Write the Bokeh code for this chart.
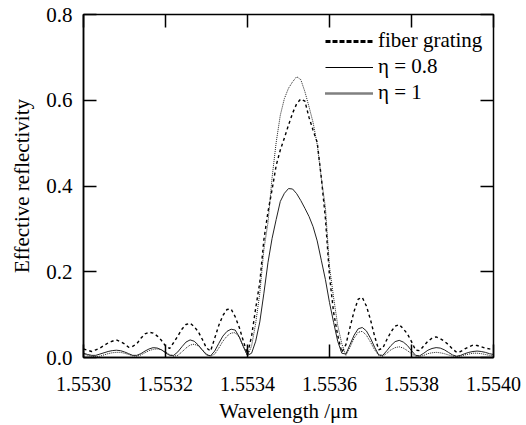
import numpy as np
from bokeh.plotting import figure
from bokeh.models import (Range1d, FixedTicker, PrintfTickFormatter, LinearAxis,
                          Legend, LegendItem, CustomJSTickFormatter)
from bokeh.embed import file_html
from bokeh.resources import INLINE

# ---- data ----
wavelength = np.round(np.linspace(1.5530, 1.5540, 101), 6)

fiber_grating = [0.020, 0.017, 0.014, 0.018, 0.022, 0.028, 0.034, 0.038, 0.041, 0.037,
                 0.032, 0.024, 0.026, 0.032, 0.045, 0.055, 0.059, 0.057, 0.050, 0.040,
                 0.027, 0.021, 0.035, 0.050, 0.066, 0.077, 0.080, 0.072, 0.060, 0.042,
                 0.022, 0.015, 0.045, 0.075, 0.098, 0.112, 0.113, 0.095, 0.070, 0.038,
                 0.008, 0.050, 0.115, 0.175, 0.275, 0.340, 0.392, 0.448, 0.484, 0.512,
                 0.542, 0.570, 0.592, 0.603, 0.598, 0.560, 0.530, 0.502, 0.420, 0.325,
                 0.190, 0.105, 0.052, 0.012, 0.030, 0.070, 0.108, 0.136, 0.140, 0.120,
                 0.088, 0.050, 0.018, 0.022, 0.042, 0.060, 0.073, 0.077, 0.067, 0.055,
                 0.037, 0.017, 0.016, 0.027, 0.038, 0.045, 0.048, 0.044, 0.038, 0.030,
                 0.020, 0.012, 0.014, 0.020, 0.025, 0.029, 0.028, 0.025, 0.022, 0.020,
                 0.018]

eta_08 = [0.010, 0.007, 0.005, 0.005, 0.008, 0.011, 0.014, 0.016, 0.017, 0.016,
          0.013, 0.009, 0.005, 0.005, 0.009, 0.015, 0.020, 0.023, 0.022, 0.018,
          0.011, 0.005, 0.005, 0.013, 0.025, 0.036, 0.041, 0.038, 0.029, 0.017,
          0.006, 0.004, 0.015, 0.033, 0.050, 0.061, 0.066, 0.064, 0.048, 0.025,
          0.005, 0.010, 0.038, 0.083, 0.150, 0.222, 0.278, 0.322, 0.364, 0.383,
          0.394, 0.393, 0.382, 0.366, 0.348, 0.329, 0.305, 0.272, 0.227, 0.182,
          0.128, 0.082, 0.038, 0.010, 0.008, 0.030, 0.052, 0.067, 0.070, 0.062,
          0.045, 0.024, 0.006, 0.005, 0.016, 0.028, 0.037, 0.040, 0.036, 0.028,
          0.016, 0.005, 0.004, 0.010, 0.017, 0.021, 0.023, 0.022, 0.018, 0.012,
          0.006, 0.003, 0.005, 0.009, 0.012, 0.014, 0.015, 0.014, 0.012, 0.009,
          0.007]

eta_1 = [0.008, 0.005, 0.003, 0.002, 0.003, 0.006, 0.009, 0.011, 0.012, 0.012,
         0.010, 0.007, 0.004, 0.003, 0.006, 0.011, 0.016, 0.019, 0.020, 0.018,
         0.013, 0.007, 0.003, 0.005, 0.013, 0.022, 0.029, 0.031, 0.027, 0.018,
         0.008, 0.003, 0.008, 0.022, 0.038, 0.050, 0.057, 0.058, 0.047, 0.026,
         0.004, 0.027, 0.080, 0.150, 0.252, 0.315, 0.420, 0.502, 0.565, 0.604,
         0.628, 0.643, 0.655, 0.648, 0.620, 0.585, 0.548, 0.497, 0.418, 0.350,
         0.212, 0.140, 0.075, 0.032, 0.005, 0.024, 0.045, 0.059, 0.061, 0.052,
         0.036, 0.018, 0.005, 0.003, 0.010, 0.018, 0.023, 0.025, 0.022, 0.016,
         0.009, 0.003, 0.002, 0.005, 0.009, 0.011, 0.012, 0.011, 0.009, 0.006,
         0.003, 0.002, 0.003, 0.006, 0.008, 0.010, 0.010, 0.009, 0.007, 0.005,
         0.004]

x_ticks = [1.5530, 1.5532, 1.5534, 1.5536, 1.5538, 1.5540]
y_ticks = [0.0, 0.2, 0.4, 0.6, 0.8]
series_labels = ["fiber grating", "\u03b7 = 0.8", "\u03b7 = 1"]

FONT = "Liberation Serif"

p = figure(width=526, height=425, output_backend="svg", toolbar_location=None,
           x_range=Range1d(1.5530, 1.5540), y_range=Range1d(0.0, 0.8),
           min_border_left=83, min_border_right=33, min_border_top=14,
           min_border_bottom=67)
p.grid.visible = False
p.outline_line_color = "black"
p.outline_line_width = 1.5
p.background_fill_color = "white"
p.border_fill_color = "white"

p.xaxis.ticker = FixedTicker(ticks=x_ticks)
p.xaxis.formatter = PrintfTickFormatter(format="%.4f")
p.yaxis.ticker = FixedTicker(ticks=y_ticks)
p.yaxis.formatter = PrintfTickFormatter(format="%.1f")
p.xaxis.axis_label = "Wavelength /\u03bcm"
p.yaxis.axis_label = "Effective reflectivity"

for ax in (p.xaxis[0], p.yaxis[0]):
    ax.major_tick_in = 13
    ax.major_tick_out = 0
    ax.minor_tick_line_color = None
    ax.major_tick_line_width = 1.5
    ax.axis_line_width = 1.5
    ax.major_label_text_font = FONT
    ax.axis_label_text_font = FONT
    ax.axis_label_text_font_style = "normal"
    ax.axis_label_text_font_size = "21px"
    ax.major_label_text_color = "black"
    ax.axis_label_text_color = "black"

p.xaxis.major_label_text_font_size = "20px"
p.yaxis.major_label_text_font_size = "21px"
p.xaxis.major_label_standoff = 19
p.xaxis.axis_label_standoff = 5
p.yaxis.major_label_standoff = 11
p.yaxis.axis_label_standoff = 9

blank = CustomJSTickFormatter(code="return ''")
top_axis = LinearAxis(ticker=FixedTicker(ticks=x_ticks), formatter=blank,
                      major_tick_in=13, major_tick_out=0, minor_tick_line_color=None,
                      major_tick_line_width=1.5, axis_line_color=None, major_label_standoff=0)
right_axis = LinearAxis(ticker=FixedTicker(ticks=y_ticks), formatter=blank,
                        major_tick_in=13, major_tick_out=0, minor_tick_line_color=None,
                        major_tick_line_width=1.5, axis_line_color=None, major_label_standoff=0)
p.add_layout(top_axis, "above")
p.add_layout(right_axis, "right")

# curves
p.line(wavelength, fiber_grating, line_color="black", line_width=1.4, line_dash="3 3")
p.line(wavelength, eta_08, line_color="#222222", line_width=1.0)
p.line(wavelength, eta_1, line_color="#222222", line_width=1.0, line_dash="1 1")

# legend proxies (single off-range point, styled like the reference legend keys)
lg1 = p.line([1.5520], [-1.0], line_color="black", line_width=3, line_dash="5 2")
lg2 = p.line([1.5520], [-1.0], line_color="black", line_width=1.2)
lg3 = p.line([1.5520], [-1.0], line_color="black", line_width=2.5, line_dash="1 1")

legend = Legend(items=[LegendItem(label=series_labels[0], renderers=[lg1]),
                       LegendItem(label=series_labels[1], renderers=[lg2]),
                       LegendItem(label=series_labels[2], renderers=[lg3])],
                location=(242, 252), padding=0, margin=0, spacing=1,
                glyph_width=48, glyph_height=20, label_height=20, label_standoff=5,
                label_text_font=FONT, label_text_font_size="21px",
                label_text_color="black",
                border_line_color=None, background_fill_alpha=0)
p.add_layout(legend)

open("out.html", "w").write(file_html(p, INLINE))
